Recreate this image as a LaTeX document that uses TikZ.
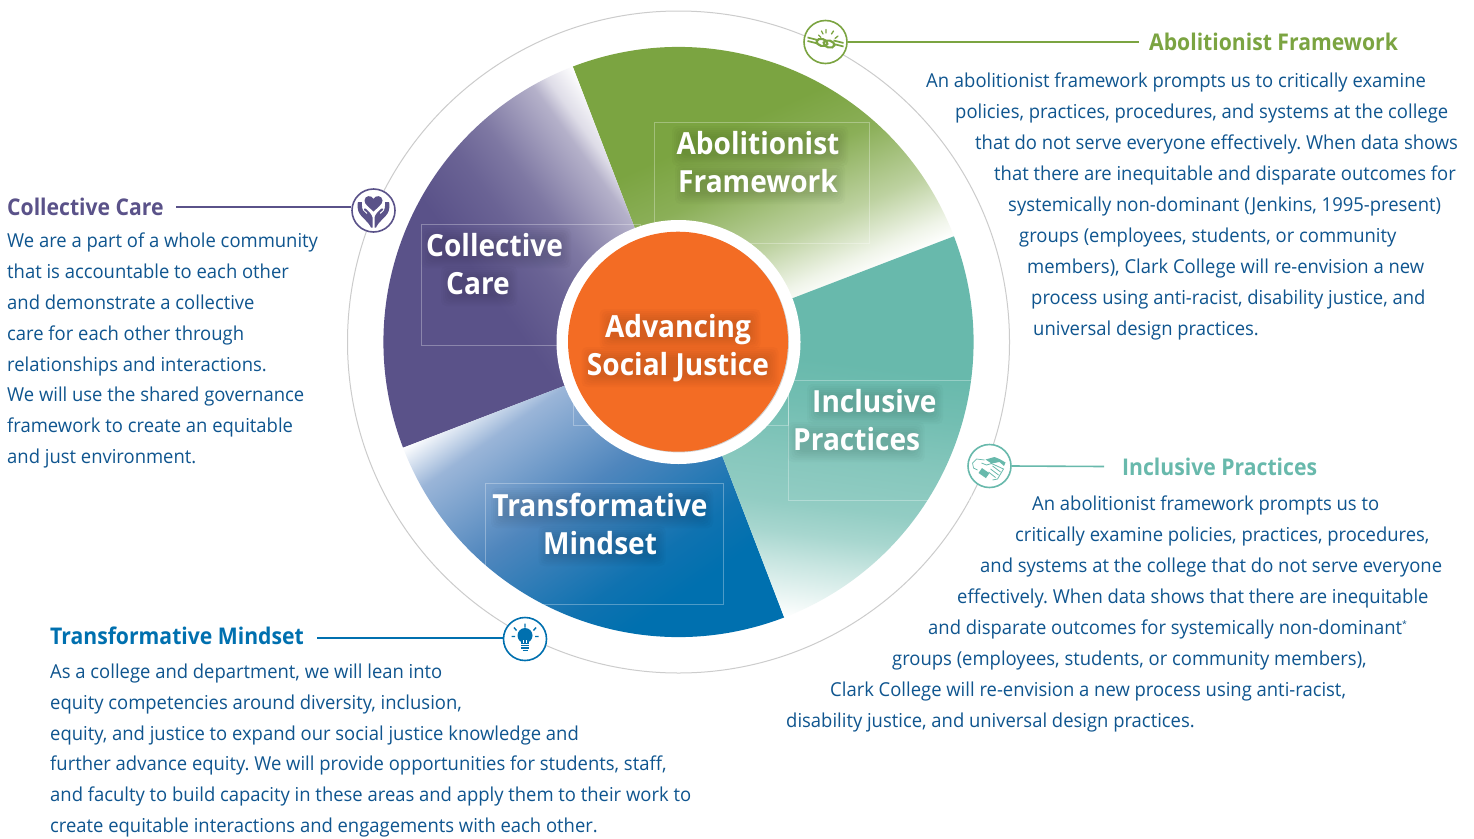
\documentclass[tikz,border=0pt]{standalone}
\usepackage{fontspec}
\setmainfont{Open Sans}[FakeStretch=0.96,BoldFeatures={FakeStretch=0.92}]
\frenchspacing
\definecolor{cgreen}{HTML}{7BA441}
\definecolor{cpurple}{HTML}{5A5289}
\definecolor{cteal}{HTML}{68B9AC}
\definecolor{cblue}{HTML}{0070AF}
\definecolor{corange}{HTML}{F36C24}
\definecolor{cbody}{HTML}{0F558F}
\definecolor{cring}{HTML}{CCCCCC}
\definecolor{cbluea}{HTML}{9AB5D8}
\definecolor{cblueb}{HTML}{4F86BD}
\definecolor{cbluec}{HTML}{0F72B0}
\pgfdeclarehorizontalshading{sgreen}{1000pt}{color(0pt)=(white); color(200pt)=(white); color(220pt)=(cgreen!12!white); color(267pt)=(cgreen!50!white); color(335pt)=(cgreen!88!white); color(390pt)=(cgreen); color(1000pt)=(cgreen)}
\pgfdeclarehorizontalshading{spurple}{1000pt}{color(0pt)=(white); color(200pt)=(white); color(228pt)=(cpurple!20!white); color(244pt)=(cpurple!45!white); color(305pt)=(cpurple!78!white); color(344pt)=(cpurple!90!white); color(400pt)=(cpurple); color(1000pt)=(cpurple)}
\pgfdeclarehorizontalshading{steal}{1000pt}{color(0pt)=(white); color(200pt)=(white); color(255pt)=(cteal!36!white); color(285pt)=(cteal!58!white); color(315pt)=(cteal!72!white); color(360pt)=(cteal!80!white); color(415pt)=(cteal!93!white); color(460pt)=(cteal); color(1000pt)=(cteal)}
\pgfdeclarehorizontalshading{sblue}{1000pt}{color(0pt)=(white); color(200pt)=(white); color(243pt)=(cbluea); color(337pt)=(cblueb); color(435pt)=(cbluec); color(480pt)=(cblue); color(1000pt)=(cblue)}
\newcommand{\petal}[3]{%
\begin{scope}[shift={(678.5,-342)}]
\clip (0,0) -- (#1:295) arc[start angle=#1,delta angle=90,radius=295] -- cycle;
\begin{scope}[shift={(#1:295)},rotate={#1+90+#2},shift={(300,0)}]
\pgflowlevelsynccm\pgfuseshading{#3}
\end{scope}
\end{scope}}
\newcommand{\softband}[3]{%
\foreach \i in {0,1,...,5}{
\fill[black,opacity=.018,rounded corners=5pt] ({#1-#3/2-7+2*\i},{-#2-15-5+2*\i}) rectangle ({#1+#3/2+7-2*\i},{-#2+15+5-2*\i});
}}
\tikzset{
 x=1pt,y=1pt,
 faintbox/.style={draw=white,draw opacity=.3,line width=.6pt},
 wlabel/.style={text=white,font=\fontsize{30.5}{38}\selectfont\bfseries,inner sep=0pt},
 para/.style={text=cbody,font=\fontsize{19.2}{30.95}\selectfont,inner sep=0pt,align=left,anchor=west},
 ttl/.style={font=\fontsize{23}{28}\selectfont\bfseries,inner sep=0pt,anchor=west},
 iconc/.style={circle,draw=#1,fill=white,line width=1.6pt,minimum size=43pt,inner sep=0pt},
 conn/.style={draw=#1,line width=1.6pt},
}
\begin{document}
\begin{tikzpicture}
\useasboundingbox (0,0) rectangle (1474,-838);
\fill[white] (0,0) rectangle (1474,-838);
% ring
\draw[cring,line width=1pt] (678.5,-342) circle[radius=331];
% petals
\petal{21}{3}{sgreen}
\petal{111}{15}{spurple}
\petal{201}{14}{sblue}
\petal{291}{62}{steal}
% faint text frames
\draw[faintbox] (654,-122) rectangle (869,-243);
\draw[faintbox] (421,-224.5) rectangle (640,-345);
\draw[faintbox] (485,-483) rectangle (723,-604);
\draw[faintbox] (788,-380) rectangle (971,-500);
\draw[faintbox] (573,-304) rectangle (788,-425);
% hub
\fill[white] (678.5,-342) circle[radius=122];
\fill[black!18] (678.9,-342.4) circle[radius=110];
\node[circle,fill=corange,minimum size=220pt,inner sep=0pt] (hub) at (678,-341.7) {};
% soft text shadows
\softband{760}{146}{162}
\softband{760}{184}{156}
\softband{496}{248}{136}
\softband{479}{286}{62}
\softband{875}{404}{122}
\softband{856}{442}{123}
\softband{602}{508}{208}
\softband{602}{546}{113}
\softband{680}{329}{147}
\softband{680}{367}{183}
% wedge labels
\node[wlabel,align=center] (lhub) at (678,-348) {Advancing\\Social Justice};
\node[wlabel,align=center] (lgreen) at (758,-162) {Abolitionist\\Framework};
\node[wlabel,align=left,anchor=west] (lpurple) at (426,-264) {Collective\\\hspace*{20pt}Care};
\node[wlabel,align=left,anchor=west] (lteal) at (793,-420) {\hspace*{19pt}Inclusive\\Practices};
\node[wlabel,align=center] (lblue) at (600,-524) {Transformative\\Mindset};
% icons
\node[iconc=cgreen] (igreen) at (825.5,-42) {};
\node[iconc=cpurple] (ipurple) at (373.5,-210.5) {};
\node[iconc=cteal] (iteal) at (989.5,-466) {};
\node[iconc=cblue] (iblue) at (525,-639) {};
% chain icon
\begin{scope}[shift={(igreen.center)},cgreen]
\draw[line width=1.3pt,line cap=round] (-7,7)--(-4.5,4.5) (0.5,12.5)--(0.5,9) (8,11)--(6,8) (12.5,6)--(9.5,3.5) (-4,11)--(-2.5,8);
\draw[line width=1.7pt] (-18,4.5)--(-8,2) (-18,1)--(-8,-1.5);
\draw[line width=1.7pt] (18,-4.5)--(8,-2) (18,-1)--(8,1.5);
\draw[line width=2.2pt,rotate around={-15:(-3.5,-.5)}] (-3.5,-.5) ellipse[x radius=5.5,y radius=3.5];
\draw[line width=2.2pt,rotate around={-15:(3.5,-2)}] (3.5,-2) ellipse[x radius=5.5,y radius=3.5];
\end{scope}
% heart-in-hands icon
\begin{scope}[shift={(ipurple.center)},cpurple]
\fill (0,-1) .. controls (-4,3) and (-9,6) .. (-9,10) .. controls (-9,15) and (-2,16) .. (0,11.5) .. controls (2,16) and (9,15) .. (9,10) .. controls (9,6) and (4,3) .. (0,-1) -- cycle;
\foreach \s in {1,-1}{
\begin{scope}[xscale=\s]
\fill (15.5,8.5) .. controls (16.5,6) and (16,0) .. (14,-3) .. controls (11,-8) and (6,-10) .. (2.5,-17) -- (1,-17) -- (1,-7) .. controls (2,-3) and (5,-1) .. (8,2) .. controls (9,3) and (10.5,1.5) .. (9.5,0.5) -- (6,-2.5) -- (7,-3.5) -- (10.5,0) .. controls (11.5,1) and (11.5,4) .. (11.7,8.5) -- cycle;
\end{scope}}
\end{scope}
% handshake icon
\begin{scope}[shift={(iteal.center)},cteal]
\fill (-4,6.5) -- (5,9) -- (10,7) -- (16,3.5) -- (14.5,0) -- (10,4) -- (2,2.5) -- cycle;
\fill[rotate=-35] (-5,-12) rectangle (4,-6);
\draw[line width=.7pt] (-5,6) -- (-13,7) -- (-17,3) -- (-16,-2) -- (-12,-4);
\draw[line width=.8pt] (-8,3) -- (-3,1) -- (2,2.5) -- (14,-3) -- (8,-13) -- (3,-14);
\draw[line width=.8pt] (1,-3) -- (9,-9) (-1,-6) -- (6,-11.5) (3,0) -- (11,-6);
\end{scope}
% bulb icon
\begin{scope}[shift={(iblue.center)},cblue]
\fill (0,3.5) circle[radius=7.5];
\fill (-4,-1) rectangle (4,-4.5);
\draw[white,line width=.7pt] (-1.3,-1) -- (-1.3,-4) (1.3,-1) -- (1.3,-4);
\draw[line width=1.4pt] (-4,-6.3) -- (4,-6.3) (-4,-9) -- (4,-9);
\draw[line width=1.4pt] (-2.5,-11.5) -- (2.5,-11.5);
\draw[line width=1.4pt] (0,15.5) -- (0,11.5) (-11,11.5) -- (-8.5,8.5) (11,11.5) -- (8.5,8.5) (-13.5,2.5) -- (-10,2.5) (13.5,2.5) -- (10,2.5);
\end{scope}
% connectors
\coordinate (cgreenend) at (1139,-42);
\coordinate (cpurpleend) at (176,-207);
\coordinate (ctealend) at (1104,-466.5);
\coordinate (cblueend) at (317,-638);
\draw[conn=cgreen] (igreen.east) -- (cgreenend);
\draw[conn=cpurple] (cpurpleend) -- (cpurpleend -| ipurple.west);
\draw[conn=cteal] (iteal.east) -- (ctealend);
\draw[conn=cblue] (cblueend) -- (cblueend -| iblue.west);
% titles
\node[ttl,text=cgreen] (tgreen) at (1149,-42) {Abolitionist Framework};
\node[ttl,text=cpurple] (tpurple) at (7,-207) {Collective Care};
\node[ttl,text=cteal] (tteal) at (1122,-467) {Inclusive Practices};
\node[ttl,text=cblue] (tblue) at (50,-636) {Transformative Mindset};
% paragraphs
\node[para] (pgreen) at (926,-206.5) {An abolitionist framework prompts us to critically examine\\
\hspace*{29pt}policies, practices, procedures, and systems at the college\\
\hspace*{49pt}that do not serve everyone effectively. When data shows\\
\hspace*{68pt}that there are inequitable and disparate outcomes for\\
\hspace*{82pt}systemically non-dominant (Jenkins, 1995-present)\\
\hspace*{93pt}groups (employees, students, or community\\
\hspace*{101pt}members), Clark College will re-envision a new\\
\hspace*{105pt}process using anti-racist, disability justice, and\\
\hspace*{107pt}universal design practices.};
\node[para] (pteal) at (786,-614) {\hspace*{246pt}An abolitionist framework prompts us to\\
\hspace*{229pt}critically examine policies, practices, procedures,\\
\hspace*{194pt}and systems at the college that do not serve everyone\\
\hspace*{171pt}effectively. When data shows that there are inequitable\\
\hspace*{142pt}and disparate outcomes for systemically non-dominant\raisebox{7pt}{\fontsize{9}{9}\selectfont *}\\
\hspace*{106pt}groups (employees, students, or community members),\\
\hspace*{44pt}Clark College will re-envision a new process using anti-racist,\\
disability justice, and universal design practices.};
\node[para] (ppurple) at (7,-350.5) {We are a part of a whole community\\
that is accountable to each other\\
and demonstrate a collective\\
care for each other through\\
relationships and interactions.\\
We will use the shared governance\\
framework to create an equitable\\
and just environment.};
\node[para] (pblue) at (50,-750.5) {As a college and department, we will lean into\\
equity competencies around diversity, inclusion,\\
equity, and justice to expand our social justice knowledge and\\
further advance equity. We will provide opportunities for students, staff,\\
and faculty to build capacity in these areas and apply them to their work to\\
create equitable interactions and engagements with each other.};
\end{tikzpicture}
\end{document}
